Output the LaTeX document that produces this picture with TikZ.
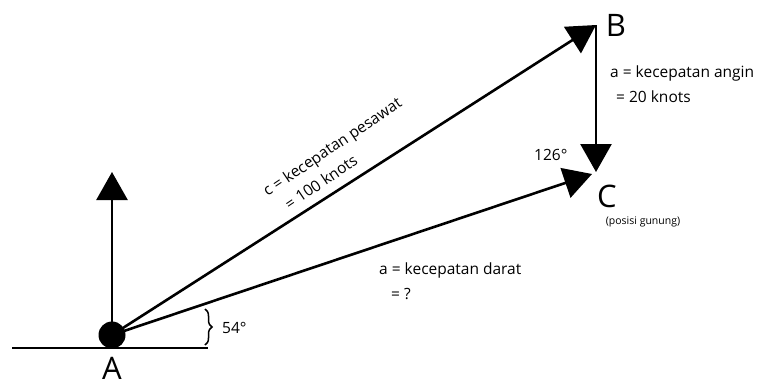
\documentclass[tikz,border=0pt]{standalone}
\usepackage{fontspec}
\setmainfont{Open Sans}
\usetikzlibrary{arrows.meta,decorations.pathreplacing}
\begin{document}
\begin{tikzpicture}[x=1pt,y=-1pt,
  vec/.style={line width=2.6pt,-{Triangle[length=28pt,width=31pt]}},
  big/.style={font=\fontsize{31}{33}\selectfont,inner sep=0pt},
  lbl/.style={font=\fontsize{15.5}{17}\selectfont,inner sep=0pt,anchor=west},
  small/.style={font=\fontsize{10.5}{12}\selectfont,inner sep=0pt}]
\useasboundingbox (0,0) rectangle (763,383);
\coordinate (A) at (112,335);
\coordinate (B) at (596,25);
\coordinate (C) at (596,172);
\coordinate (N) at (112,172);
\coordinate (G1) at (12,348);
\coordinate (G2) at (208,348);
\coordinate (CA) at (592,174);
\draw[line width=2.6pt] (G1) -- (G2);
\draw[vec] (A) -- (N);
\draw[vec] (A) -- (B);
\draw[vec] (B) -- (C);
\draw[vec] (A) -- (CA);
\fill (A) circle (13.5);
\node[big] (la) at (112,368) {A};
\node[big] (lb) at (616,25) {B};
\node[big] (lc) at (607,196) {C};
\node[small] (pg) at (643,222) {(posisi gunung)};
\node[lbl] (wa) at (610,73) {a = kecepatan angin};
\node[lbl] (wb) at (616,97) {= 20 knots};
\node[lbl] (ang) at (534,155) {126°};
\node[lbl] (da) at (379,270) {a = kecepatan darat};
\node[lbl] (db) at (391,294) {= ?};
\node[lbl,rotate=34,anchor=center] (pa) at (333,148) {c = kecepatan pesawat};
\node[lbl,rotate=34,anchor=center] (pb) at (321,182) {= 100 knots};
\coordinate (b1) at (205,345);
\coordinate (b2) at (205,309);
\draw[line width=1.5pt,decorate,decoration={brace,amplitude=7pt}] (b2) -- (b1);
\node[lbl] (d54) at (222,328) {54°};
\end{tikzpicture}
\end{document}
